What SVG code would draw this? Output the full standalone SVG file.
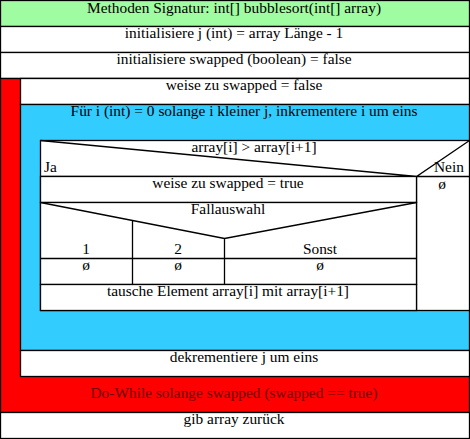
<svg xmlns="http://www.w3.org/2000/svg" width="470" height="439" viewBox="0 0 470 439">
<style>
.b{stroke:#000;stroke-width:1.3;}
.w{fill:#fff;}
text{font-family:"Liberation Serif","Times New Roman",serif;font-size:15.4px;fill:#000;}
.c{text-anchor:middle;}
.dr{fill:#6a0000;}
.ln{stroke:#000;stroke-width:1.3;fill:none;}
</style>
<rect x="0" y="0" width="470" height="439" fill="#fff"/>
<g id="signatur"><rect class="b" x="0.5" y="0.5" width="469" height="26" fill="#a0fca0"/><text class="c" x="234" y="13">Methoden Signatur: int[] bubblesort(int[] array)</text></g>
<g id="init-j"><rect class="b w" x="0.5" y="26.5" width="469" height="26"/><text class="c" x="234" y="38">initialisiere j (int) = array Länge - 1</text></g>
<g id="init-swapped"><rect class="b w" x="0.5" y="52.5" width="469" height="26"/><text class="c" x="234" y="64">initialisiere swapped (boolean) = false</text></g>
<g id="do-while"><rect class="b" x="0.5" y="78.5" width="469" height="334" fill="#ff0000"/><text class="c dr" x="234" y="398">Do-While solange swapped (swapped == true)</text></g>
<g id="assign-false"><rect class="b w" x="20.5" y="78.5" width="449" height="26"/><text class="c" x="244" y="90">weise zu swapped = false</text></g>
<g id="for-loop"><rect class="b" x="20.5" y="104.5" width="449" height="246" fill="#33ccff"/><text class="c" x="244" y="116">Für i (int) = 0 solange i kleiner j, inkrementere i um eins</text></g>
<g id="if"><rect class="b w" x="40.5" y="140.5" width="429" height="170"/>
<path class="ln" d="M40.5,140.5 L416.5,176.5 L469.5,140.5 M40.5,176.5 H469.5 M416.5,176.5 V310.5"/>
<text class="c" x="254" y="152">array[i] &gt; array[i+1]</text>
<text x="44" y="172">Ja</text>
<text x="434" y="172">Nein</text>
<text class="c" x="442" y="189">ø</text></g>
<g id="assign-true"><rect class="b w" x="40.5" y="176.5" width="376" height="26"/><text class="c" x="228" y="188">weise zu swapped = true</text></g>
<g id="case"><rect class="b w" x="40.5" y="202.5" width="376" height="82"/>
<path class="ln" d="M40.5,202.5 L224.5,238.5 L416.5,202.5 M132.5,220.5 V284.5 M224.5,238.5 V284.5 M40.5,258.5 H416.5"/>
<text class="c" x="228" y="214">Fallauswahl</text>
<text class="c" x="86" y="254">1</text>
<text class="c" x="178" y="254">2</text>
<text class="c" x="320" y="254">Sonst</text>
<text class="c" x="86" y="270">ø</text>
<text class="c" x="178" y="270">ø</text>
<text class="c" x="320" y="270">ø</text></g>
<g id="swap"><rect class="b w" x="40.5" y="284.5" width="376" height="26"/><text class="c" x="228" y="296">tausche Element array[i] mit array[i+1]</text></g>
<g id="decrement"><rect class="b w" x="20.5" y="350.5" width="449" height="26"/><text class="c" x="244" y="362">dekrementiere j um eins</text></g>
<g id="return"><rect class="b w" x="0.5" y="412.5" width="469" height="26"/><text class="c" x="234" y="424">gib array zurück</text></g>
<g id="connectors"></g>
</svg>
